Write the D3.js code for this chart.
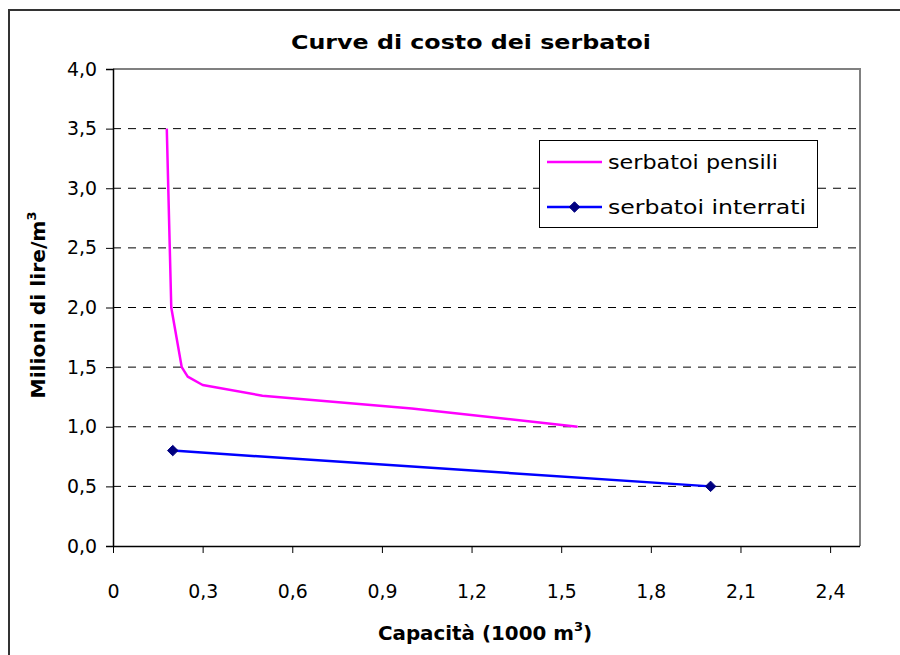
<!DOCTYPE html>
<html>
<head>
<meta charset="utf-8">
<script src="https://cdn.jsdelivr.net/npm/d3@7"></script>
<style>
  html, body { margin: 0; padding: 0; background: #fff; }
  svg { display: block; }
  text { font-family: "Comic Sans MS", "DejaVu Sans", sans-serif; fill: #000; }
</style>
</head>
<body>
<svg id="chart" width="900" height="655"></svg>
<script>
// Cost curves for water tanks (capacity in 1000 m³, cost in millions of lire per m³)
const pensiliX = [0.18, 0.195, 0.23, 0.25, 0.30, 0.50, 1.00, 1.555];
const pensiliY = [3.5, 2.0, 1.5, 1.42, 1.35, 1.26, 1.153, 1.0];
const interratiX = [0.2, 2.0];
const interratiY = [0.8, 0.5];
const seriesNames = ["serbatoi pensili", "serbatoi interrati"];
const xTicks = [0, 0.3, 0.6, 0.9, 1.2, 1.5, 1.8, 2.1, 2.4];
const yTicks = [0, 0.5, 1.0, 1.5, 2.0, 2.5, 3.0, 3.5, 4.0];
const titleText = "Curve di costo dei serbatoi";

const svg = d3.select("#chart");
const plot = { left: 113, right: 860, top: 69, bottom: 546 };
const FONT = '"Comic Sans MS", "DejaVu Sans", sans-serif';

const x = d3.scaleLinear().domain([0, 2.5]).range([plot.left, plot.right]);
const y = d3.scaleLinear().domain([0, 4]).range([plot.bottom, plot.top]);
const fmt = (d, dec) => d3.format("." + dec + "f")(d).replace(".", ",");

// outer chart frame
svg.append("rect")
  .attr("x", 9).attr("y", 10).attr("width", 900).attr("height", 700)
  .attr("fill", "none").attr("stroke", "#333").attr("stroke-width", 2);

// horizontal dashed gridlines
svg.append("g").selectAll("line")
  .data(yTicks.filter(v => v > 0 && v < 4))
  .join("line")
  .attr("x1", plot.left).attr("x2", plot.right)
  .attr("y1", d => y(d)).attr("y2", d => y(d))
  .attr("stroke", "#000").attr("stroke-width", 1)
  .attr("stroke-dasharray", "8,7");

// top and right plot-area border
svg.append("path")
  .attr("d", `M${plot.left},${plot.top}H${plot.right}V${plot.bottom}`)
  .attr("fill", "none").attr("stroke", "#808080").attr("stroke-width", 2);

// y axis
const yAxis = svg.append("g")
  .attr("transform", `translate(${plot.left},0)`)
  .call(d3.axisLeft(y).tickValues(yTicks).tickSize(7).tickPadding(9)
    .tickFormat(d => fmt(d, 1)));
yAxis.select(".domain").attr("stroke", "#000").attr("stroke-width", 1.5);
yAxis.selectAll(".tick line").attr("stroke", "#000");
yAxis.selectAll(".tick text")
  .style("font-size", "19px").attr("fill", "#000")
  .style("font-family", FONT)
  .attr("textLength", 30).attr("lengthAdjust", "spacingAndGlyphs");

// x axis
const xAxis = svg.append("g")
  .attr("transform", `translate(0,${plot.bottom})`)
  .call(d3.axisBottom(x).tickValues(xTicks).tickSize(7).tickPadding(32)
    .tickFormat(d => d === 0 ? "0" : fmt(d, 1)));
xAxis.select(".domain").attr("stroke", "#000").attr("stroke-width", 1.5)
  .attr("d", `M${plot.left},0.5H${plot.right}`);
xAxis.selectAll(".tick line").attr("stroke", "#000");
xAxis.selectAll(".tick text")
  .style("font-size", "19px").attr("fill", "#000")
  .style("font-family", FONT)
  .each(function(d) {
    if (d !== 0) d3.select(this).attr("textLength", 30).attr("lengthAdjust", "spacingAndGlyphs");
  });

// series lines
const line = d3.line().x(d => x(d[0])).y(d => y(d[1]));
const pensili = pensiliX.map((v, i) => [v, pensiliY[i]]);
const interrati = interratiX.map((v, i) => [v, interratiY[i]]);

svg.append("path").datum(pensili)
  .attr("d", line).attr("fill", "none")
  .attr("stroke", "#FF00FF").attr("stroke-width", 2.5)
  .attr("stroke-linejoin", "round");

svg.append("path").datum(interrati)
  .attr("d", line).attr("fill", "none")
  .attr("stroke", "#0000FF").attr("stroke-width", 2.5);

const diamond = d3.symbol().type(d3.symbolDiamond2).size(70);
svg.append("g").selectAll("path")
  .data(interrati).join("path")
  .attr("d", diamond)
  .attr("transform", d => `translate(${x(d[0])},${y(d[1])})`)
  .attr("fill", "#000080").attr("stroke", "#000080");

// title
svg.append("text")
  .attr("x", 471).attr("y", 49).attr("text-anchor", "middle")
  .style("font-size", "20px").style("font-weight", "bold")
  .attr("textLength", 360).attr("lengthAdjust", "spacingAndGlyphs")
  .text(titleText);

// x axis title
const xt = svg.append("text")
  .attr("x", 485).attr("y", 640).attr("text-anchor", "middle")
  .style("font-size", "20px").style("font-weight", "bold");
xt.append("tspan").text("Capacità (1000 m")
  .attr("textLength", 196).attr("lengthAdjust", "spacingAndGlyphs");
xt.append("tspan").attr("dy", -9).style("font-size", "13px").text("3");
xt.append("tspan").attr("dy", 9).text(")");

// y axis title
const yt = svg.append("text")
  .attr("transform", "translate(45,305) rotate(-90)")
  .attr("text-anchor", "middle")
  .style("font-size", "20px").style("font-weight", "bold");
yt.append("tspan").text("Milioni di lire/m")
  .attr("textLength", 178).attr("lengthAdjust", "spacingAndGlyphs");
yt.append("tspan").attr("dy", -9).style("font-size", "13px").text("3");

// legend
const lg = svg.append("g");
lg.append("rect")
  .attr("x", 539.5).attr("y", 140.5).attr("width", 278).attr("height", 87)
  .attr("fill", "#fff").attr("stroke", "#000").attr("stroke-width", 1);
const rows = [
  { name: seriesNames[0], color: "#FF00FF", marker: false, cy: 162, w: 170 },
  { name: seriesNames[1], color: "#0000FF", marker: true, cy: 207, w: 198 }
];
rows.forEach(r => {
  lg.append("line")
    .attr("x1", 547).attr("x2", 602).attr("y1", r.cy).attr("y2", r.cy)
    .attr("stroke", r.color).attr("stroke-width", 2.5);
  if (r.marker) {
    lg.append("path").attr("d", diamond)
      .attr("transform", `translate(574.5,${r.cy})`)
      .attr("fill", "#000080").attr("stroke", "#000080");
  }
  lg.append("text")
    .attr("x", 608).attr("y", r.cy + 7)
    .style("font-size", "20px")
    .attr("textLength", r.w).attr("lengthAdjust", "spacingAndGlyphs")
    .text(r.name);
});
</script>
</body>
</html>
